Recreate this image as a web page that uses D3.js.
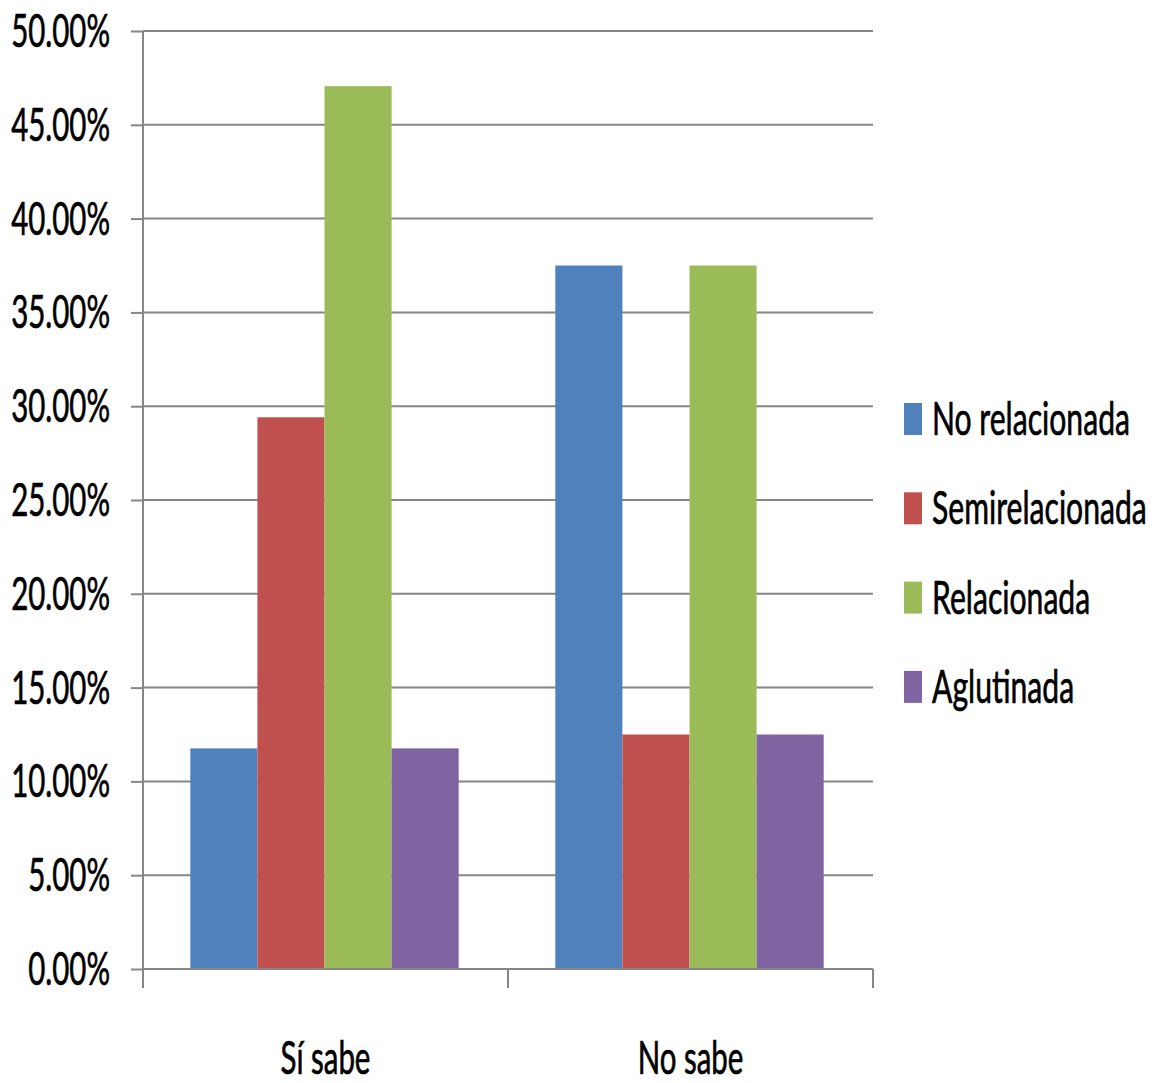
<!DOCTYPE html>
<html>
<head>
<meta charset="utf-8">
<script src="https://cdn.jsdelivr.net/npm/d3@7"></script>
<style>
  html, body { margin: 0; padding: 0; background: #fff; }
  svg { display: block; }
  text { font-family: Lato, "Open Sans", sans-serif; fill: #000; stroke: #000; stroke-width: 0.7px; }
</style>
</head>
<body>
<svg id="chart" width="1158" height="1083"></svg>
<script>
// Categories, series and values (shares of respondents)
const categories = ["Sí sabe", "No sabe"];
const seriesNames = ["No relacionada", "Semirelacionada", "Relacionada", "Aglutinada"];
const seriesColors = ["#4F81BD", "#C0504D", "#9BBB59", "#8064A2"];
const noRelacionada   = [0.1176, 0.375];
const semirelacionada = [0.2941, 0.125];
const relacionada     = [0.4706, 0.375];
const aglutinada      = [0.1176, 0.125];
const yTicks = [0, 0.05, 0.10, 0.15, 0.20, 0.25, 0.30, 0.35, 0.40, 0.45, 0.50];

const seriesValues = [noRelacionada, semirelacionada, relacionada, aglutinada];

const svg = d3.select("#chart");
const plot = { left: 143, right: 873, top: 31, bottom: 969 };
const FONT = 46, SX = 0.64;

const y = d3.scaleLinear().domain([0, 0.5]).range([plot.bottom, plot.top]);
const x0 = d3.scaleBand().domain(categories).range([plot.left, plot.right]).paddingInner(0).paddingOuter(0);
const x1 = d3.scaleBand().domain(seriesNames).range([0, x0.bandwidth()]).paddingInner(0).paddingOuter(0.72);

const grid = "#868686";

// horizontal gridlines
svg.append("g")
  .selectAll("line")
  .data(yTicks.filter(d => d > 0))
  .join("line")
  .attr("x1", plot.left).attr("x2", plot.right)
  .attr("y1", d => y(d)).attr("y2", d => y(d))
  .attr("stroke", grid).attr("stroke-width", 2);

// bars
const rows = categories.map((c, i) => ({ cat: c, vals: seriesNames.map((s, j) => ({ s, v: seriesValues[j][i], color: seriesColors[j] })) }));
svg.append("g")
  .selectAll("g")
  .data(rows)
  .join("g")
  .attr("transform", d => `translate(${x0(d.cat) - 1},0)`)
  .selectAll("rect")
  .data(d => d.vals)
  .join("rect")
  .attr("x", d => x1(d.s))
  .attr("width", x1.bandwidth())
  .attr("y", d => y(d.v))
  .attr("height", d => y(0) - y(d.v))
  .attr("fill", d => d.color);

// y axis
const yAxis = svg.append("g")
  .attr("transform", `translate(${plot.left},0)`)
  .call(d3.axisLeft(y).tickValues(yTicks).tickSize(12).tickPadding(0).tickFormat(() => ""));
yAxis.select(".domain").remove();
yAxis.selectAll(".tick line").attr("stroke", grid).attr("stroke-width", 2);
yAxis.append("line")
  .attr("x1", 0).attr("x2", 0).attr("y1", plot.top).attr("y2", plot.bottom + 19)
  .attr("stroke", grid).attr("stroke-width", 2);

// y tick labels (condensed)
const fmt = d3.format(".2%");
svg.append("g")
  .selectAll("text")
  .data(yTicks)
  .join("text")
  .attr("transform", d => `translate(110,${y(d) + 16}) scale(${SX},1)`)
  .attr("text-anchor", "end")
  .attr("font-size", FONT)
  .text(d => fmt(d));

// x axis
svg.append("line")
  .attr("x1", plot.left).attr("x2", plot.right)
  .attr("y1", plot.bottom).attr("y2", plot.bottom)
  .attr("stroke", grid).attr("stroke-width", 2);
const bounds = [plot.left, ...categories.map(c => x0(c) + x0.bandwidth())];
svg.append("g")
  .selectAll("line")
  .data(bounds)
  .join("line")
  .attr("x1", d => d).attr("x2", d => d)
  .attr("y1", plot.bottom).attr("y2", plot.bottom + 19)
  .attr("stroke", grid).attr("stroke-width", 2);

svg.append("g")
  .selectAll("text")
  .data(categories)
  .join("text")
  .attr("transform", d => `translate(${x0(d) + x0.bandwidth() / 2},1074) scale(${SX},1)`)
  .attr("text-anchor", "middle")
  .attr("font-size", FONT)
  .text(d => d);

// legend
const legend = svg.append("g")
  .selectAll("g")
  .data(seriesNames)
  .join("g")
  .attr("transform", (d, i) => `translate(904,${419 + i * 89.3})`);
legend.append("rect")
  .attr("x", 0).attr("y", -16).attr("width", 18).attr("height", 32)
  .attr("fill", (d, i) => seriesColors[i]);
legend.append("text")
  .attr("transform", `translate(28,16) scale(0.655,1)`)
  .attr("font-size", FONT)
  .text(d => d);
</script>
</body>
</html>
